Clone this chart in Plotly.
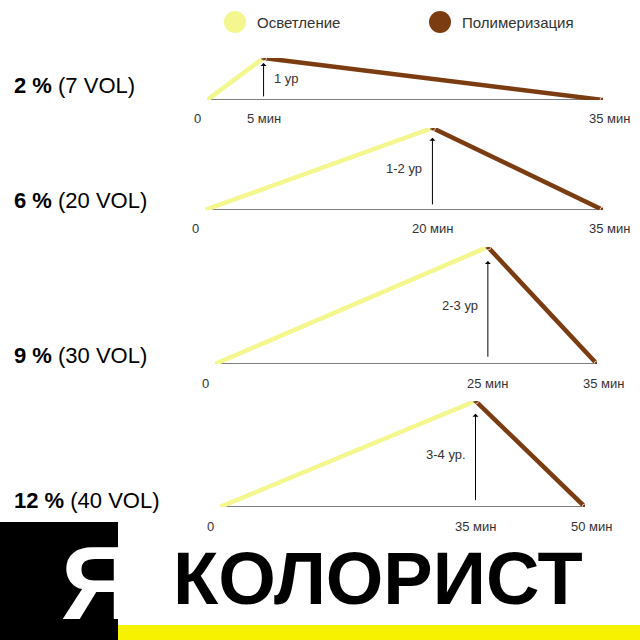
import plotly.graph_objects as go

# данные
concentrations = ["2 %", "6 %", "9 %", "12 %"]
volumes = ["(7 VOL)", "(20 VOL)", "(30 VOL)", "(40 VOL)"]
peak_min = [5, 20, 25, 35]
end_min = [35, 35, 35, 50]
levels = ["1 ур", "1-2 ур", "2-3 ур", "3-4 ур."]

# расположение панелей (пиксели)
x0px = [207, 205, 215, 220]
x1px = [603, 603, 597, 585]
base_px = [100, 210, 364, 507]
peak_px = [58, 128, 247, 401]
lvl_side = [1, -1, -1, -1]
label_y = [85, 200, 355, 500]

YELLOW = "#f3f78e"
BROWN = "#7b3c12"
W = 640

def px(v):
    return v / W

def py(v):
    return 1 - v / W

fig = go.Figure()
layout = dict(width=W, height=W, margin=dict(l=0, r=0, t=0, b=0),
              plot_bgcolor="white", paper_bgcolor="white", showlegend=False,
              font=dict(family="Arial"))
ann, shapes = [], []

for i in range(4):
    n = "" if i == 0 else str(i + 1)
    xa, ya = "x" + n, "y" + n
    layout["xaxis" + n] = dict(domain=[px(x0px[i]), px(x1px[i])], range=[0, end_min[i]],
                               visible=False, anchor=ya)
    layout["yaxis" + n] = dict(domain=[py(base_px[i]), py(peak_px[i])], range=[0, 1],
                               visible=False, anchor=xa)
    fig.add_trace(go.Scatter(x=[0, end_min[i]], y=[0, 0], mode="lines",
                             line=dict(color="black", width=1.2), xaxis=xa, yaxis=ya))
    fig.add_trace(go.Scatter(x=[0, peak_min[i]], y=[0, 1], mode="lines",
                             line=dict(color=YELLOW, width=4.5), xaxis=xa, yaxis=ya))
    fig.add_trace(go.Scatter(x=[peak_min[i], end_min[i]], y=[1, 0], mode="lines+markers",
                             line=dict(color=BROWN, width=4.5), marker=dict(size=[6, 6], color=BROWN),
                             xaxis=xa, yaxis=ya))
    # стрелка уровня
    ann.append(dict(x=peak_min[i], y=0.88, xref=xa, yref=ya, ax=peak_min[i], ay=0.05,
                    axref=xa, ayref=ya, showarrow=True, arrowhead=1, arrowwidth=1,
                    arrowcolor="black", text=""))
    ann.append(dict(x=peak_min[i], y=0.5, xref=xa, yref=ya, text=levels[i], showarrow=False,
                    xanchor="left" if lvl_side[i] > 0 else "right", xshift=8 * lvl_side[i],
                    yanchor="middle", font=dict(size=13, color="#333")))
    for xv, txt, xs in [(0, "0", -10), (peak_min[i], f"{peak_min[i]} мин", 0),
                        (end_min[i], f"{end_min[i]} мин", 6)]:
        ann.append(dict(x=xv, y=0, xref=xa, yref=ya, text=txt, showarrow=False,
                        yanchor="middle", yshift=-19, xshift=xs, font=dict(size=13, color="#333")))
    ann.append(dict(x=px(12), y=py(label_y[i]), xref="paper", yref="paper", xanchor="left",
                    yanchor="middle", text=f"<b>{concentrations[i]}</b> {volumes[i]}",
                    showarrow=False, font=dict(size=22, color="black")))

# легенда
for cx, col, txt in [(235, YELLOW, "Осветление"), (440, BROWN, "Полимеризация")]:
    shapes.append(dict(type="circle", xref="paper", yref="paper", x0=px(cx - 11), x1=px(cx + 11),
                       y0=py(33), y1=py(11), fillcolor=col, line=dict(width=0)))
    ann.append(dict(x=px(cx + 20), y=py(22), xref="paper", yref="paper", xanchor="left",
                    yanchor="middle", text=txt, showarrow=False, font=dict(size=15, color="#333")))

# нижний баннер
shapes.append(dict(type="rect", xref="paper", yref="paper", x0=0, x1=px(118), y0=0, y1=py(522),
                   fillcolor="black", line=dict(width=0), layer="below"))
shapes.append(dict(type="rect", xref="paper", yref="paper", x0=px(118), x1=1, y0=0, y1=py(625),
                   fillcolor="#f7f200", line=dict(width=0), layer="below"))
ann.append(dict(x=px(59), y=py(583), xref="paper", yref="paper", text="<b>Я</b>", showarrow=False,
                yanchor="middle", font=dict(size=104, color="white")))
ann.append(dict(x=px(378), y=py(578), xref="paper", yref="paper", text="<b>КОЛОРИСТ</b>",
                yanchor="middle", showarrow=False, font=dict(size=74, color="black")))

layout["annotations"] = ann
layout["shapes"] = shapes
fig.update_layout(**layout)
fig.write_html("out.html", config={"displayModeBar": False},
               post_script="document.body.style.margin='0';document.body.style.overflow='hidden';")
